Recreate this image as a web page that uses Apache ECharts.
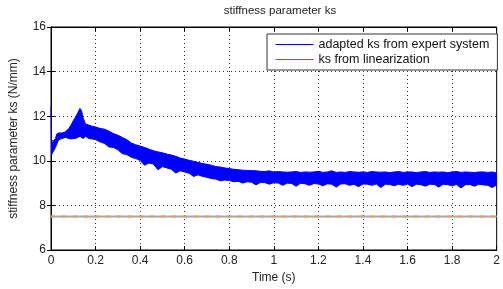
<!DOCTYPE html>
<html>
<head>
<meta charset="utf-8">
<script src="https://cdn.jsdelivr.net/npm/echarts@6/dist/echarts.min.js"></script>
<style>
    html, body { margin: 0; padding: 0; background: #fff; }
    #chart { width: 503px; height: 289px; }
</style>
</head>
<body>
<div id="chart"></div>
<script>
// time samples (s)
var timeS = [
    0, 0.002, 0.006, 0.012, 0.02, 0.026, 0.035, 0.05, 0.065, 0.08,
    0.09, 0.1, 0.11, 0.12, 0.13, 0.137, 0.145, 0.155, 0.17, 0.185,
    0.2, 0.22, 0.24, 0.26, 0.28, 0.3, 0.32, 0.34, 0.36, 0.38,
    0.4, 0.42, 0.44, 0.46, 0.48, 0.5, 0.52, 0.54, 0.56, 0.58,
    0.6, 0.62, 0.64, 0.66, 0.68, 0.7, 0.72, 0.74, 0.76, 0.78,
    0.8, 0.82, 0.84, 0.86, 0.88, 0.9, 0.92, 0.94, 0.96, 0.98,
    1.0, 1.02, 1.04, 1.06, 1.08, 1.1, 1.12, 1.14, 1.16, 1.18,
    1.2, 1.22, 1.24, 1.26, 1.28, 1.3, 1.32, 1.34, 1.36, 1.38,
    1.4, 1.42, 1.44, 1.46, 1.48, 1.5, 1.52, 1.54, 1.56, 1.58,
    1.6, 1.62, 1.64, 1.66, 1.68, 1.7, 1.72, 1.74, 1.76, 1.78,
    1.8, 1.82, 1.84, 1.86, 1.88, 1.9, 1.92, 1.94, 1.96, 1.98,
    2.0
];
// lower edge of the noisy adapted ks band (N/mm)
var lowerKs = [
    10.25, 10.25, 10.3, 10.45, 10.6, 10.75, 10.95, 11.0, 11.05, 11.0,
    10.98, 11.0, 11.0, 11.05, 11.1, 11.05, 11.0, 11.1, 11.0, 10.98,
    10.95, 10.85, 10.78, 10.62, 10.6, 10.5, 10.32, 10.28, 10.16, 10.1,
    10.02, 9.8, 9.9, 9.85, 9.6, 9.74, 9.68, 9.62, 9.45, 9.55,
    9.5, 9.44, 9.3, 9.37, 9.3, 9.26, 9.2, 9.18, 9.1, 9.14,
    9.12, 9.06, 9.08, 9.0, 9.06, 9.04, 8.92, 9.03, 9.02, 8.95,
    9.02, 9.0, 8.9, 9.0, 8.98, 8.86, 8.99, 8.97, 8.9, 8.98,
    8.96, 8.88, 8.97, 8.95, 8.82, 8.96, 8.97, 8.9, 8.95, 8.84,
    8.96, 8.95, 8.9, 8.96, 8.8, 8.95, 8.94, 8.88, 8.95, 8.9,
    8.96, 8.84, 8.95, 8.93, 8.86, 8.95, 8.94, 8.82, 8.95, 8.93,
    8.88, 8.94, 8.78, 8.93, 8.94, 8.86, 8.95, 8.92, 8.9, 8.8,
    8.92
];
// upper edge of the noisy adapted ks band (N/mm)
var upperKs = [
    12.45, 10.9, 10.85, 10.9, 11.0, 11.2, 11.25, 11.25, 11.3, 11.45,
    11.6, 11.8, 11.95, 12.15, 12.35, 12.25, 11.9, 11.65, 11.6, 11.55,
    11.52, 11.45, 11.42, 11.33, 11.22, 11.15, 11.05, 10.95, 10.8, 10.72,
    10.66, 10.6, 10.52, 10.45, 10.4, 10.36, 10.3, 10.26, 10.2, 10.12,
    10.08, 10.02, 9.98, 9.93, 9.88, 9.84, 9.8, 9.74, 9.72, 9.68,
    9.65, 9.62, 9.6, 9.58, 9.57, 9.56, 9.55, 9.53, 9.52, 9.55,
    9.5, 9.52, 9.5, 9.49, 9.5, 9.52, 9.48, 9.5, 9.49, 9.5,
    9.53, 9.48, 9.5, 9.55, 9.48, 9.5, 9.48, 9.52, 9.5, 9.49,
    9.5, 9.48, 9.52, 9.5, 9.49, 9.5, 9.47, 9.5, 9.52, 9.48,
    9.5, 9.5, 9.47, 9.5, 9.52, 9.48, 9.5, 9.49, 9.5, 9.47,
    9.5, 9.52, 9.48, 9.5, 9.49, 9.47, 9.5, 9.5, 9.48, 9.5,
    9.45
];
// ks from linearization (constant)
var linTime = [0, 2];
var linKs = [7.5, 7.5];

var seriesNames = ['adapted ks from expert system', 'ks from linearization'];

(function () {
    var chartDom = document.getElementById('chart');
    var myChart = echarts.init(chartDom, null, { renderer: 'canvas' });
    var option;

    var font = 'Liberation Sans, Arial, sans-serif';
    var bandData = timeS.map(function (t, i) { return [t, lowerKs[i], upperKs[i]]; });
    var upperData = timeS.map(function (t, i) { return [t, upperKs[i]]; });
    var lowerData = timeS.map(function (t, i) { return [t, lowerKs[i]]; });
    var linData = linTime.map(function (t, i) { return [t, linKs[i]]; });

    // fill between lower and upper edge as one polygon
    function renderBand(params, api) {
        if (params.dataIndex !== 0) return null;
        var pts = [];
        for (var i = 0; i < timeS.length; i++) {
            pts.push(api.coord([timeS[i], upperKs[i]]));
        }
        for (var j = timeS.length - 1; j >= 0; j--) {
            pts.push(api.coord([timeS[j], lowerKs[j]]));
        }
        return {
            type: 'polygon',
            shape: { points: pts },
            style: { fill: '#0000ff' }
        };
    }

    var axisCommon = {
        type: 'value',
        axisLine: { show: true, lineStyle: { color: '#000', width: 1 } },
        axisTick: { show: true, inside: true, length: 4, lineStyle: { color: '#000' } }
    };

    option = {
        animation: false,
        backgroundColor: '#fff',
        title: {
            text: 'stiffness parameter ks',
            left: 275,
            top: 0,
            textAlign: 'center',
            textStyle: { fontFamily: font, fontSize: 11.5, fontWeight: 'normal', color: '#222' }
        },
        grid: {
            left: 49, right: 3, top: 27, bottom: 37,
            show: true, borderColor: '#000', borderWidth: 1, backgroundColor: '#fff'
        },
        legend: {
            orient: 'vertical',
            left: 267, top: 34,
            padding: [4, 8, 4, 8],
            itemWidth: 38, itemHeight: 14, itemGap: 2,
            backgroundColor: '#fff',
            borderColor: '#333', borderWidth: 1, borderRadius: 0,
            itemStyle: { opacity: 0 },
            lineStyle: { width: 1 },
            textStyle: { fontFamily: font, fontSize: 12.5, color: '#111' },
            data: seriesNames
        },
        xAxis: [
            Object.assign({}, axisCommon, {
                min: 0, max: 2, interval: 0.2,
                name: 'Time (s)',
                nameLocation: 'middle',
                nameGap: 22,
                nameTextStyle: { fontFamily: font, fontSize: 12, color: '#222' },
                axisLabel: { fontFamily: font, fontSize: 12, color: '#222', margin: 5 },
                splitLine: { show: true, lineStyle: { color: '#333', type: [1, 3], width: 1 } }
            }),
            Object.assign({}, axisCommon, {
                position: 'top',
                min: 0, max: 2, interval: 0.2,
                axisLabel: { show: false },
                splitLine: { show: false }
            })
        ],
        yAxis: [
            Object.assign({}, axisCommon, {
                min: 6, max: 16, interval: 2,
                name: 'stiffness parameter ks (N/mm)',
                nameLocation: 'middle',
                nameGap: 31,
                nameTextStyle: { fontFamily: font, fontSize: 12, color: '#222' },
                axisLabel: { fontFamily: font, fontSize: 12, color: '#222', margin: 5 },
                splitLine: { show: true, lineStyle: { color: '#333', type: [1, 3], width: 1 } }
            }),
            Object.assign({}, axisCommon, {
                position: 'right',
                min: 6, max: 16, interval: 2,
                axisLabel: { show: false },
                splitLine: { show: false }
            })
        ],
        series: [
            {
                name: seriesNames[0],
                type: 'line',
                data: upperData,
                symbol: 'none',
                color: '#1a1aa0',
                lineStyle: { color: '#0000ff', width: 1 },
                z: 3
            },
            {
                name: 'lower edge',
                type: 'line',
                data: lowerData,
                symbol: 'none',
                lineStyle: { color: '#0000ff', width: 1 },
                z: 3
            },
            {
                name: 'band',
                type: 'custom',
                renderItem: renderBand,
                data: bandData,
                encode: { x: 0, y: [1, 2] },
                clip: true,
                z: 3
            },
            {
                name: seriesNames[1],
                type: 'line',
                data: linData,
                symbol: 'none',
                color: '#2e8b3a',
                lineStyle: { color: '#2e8b3a', width: 1 },
                z: 1
            },
            {
                name: 'lin grey',
                type: 'line',
                data: linData,
                symbol: 'none',
                lineStyle: { color: '#aba5b2', width: 2 },
                z: 2
            },
            {
                name: 'lin overlay',
                type: 'line',
                data: linData,
                symbol: 'none',
                lineStyle: { color: '#dca060', width: 2, type: [4, 7] },
                z: 2
            }
        ]
    };

    myChart.setOption(option);
    window.addEventListener('resize', function () {
        myChart.resize();
    });
})();
</script>
</body>
</html>
